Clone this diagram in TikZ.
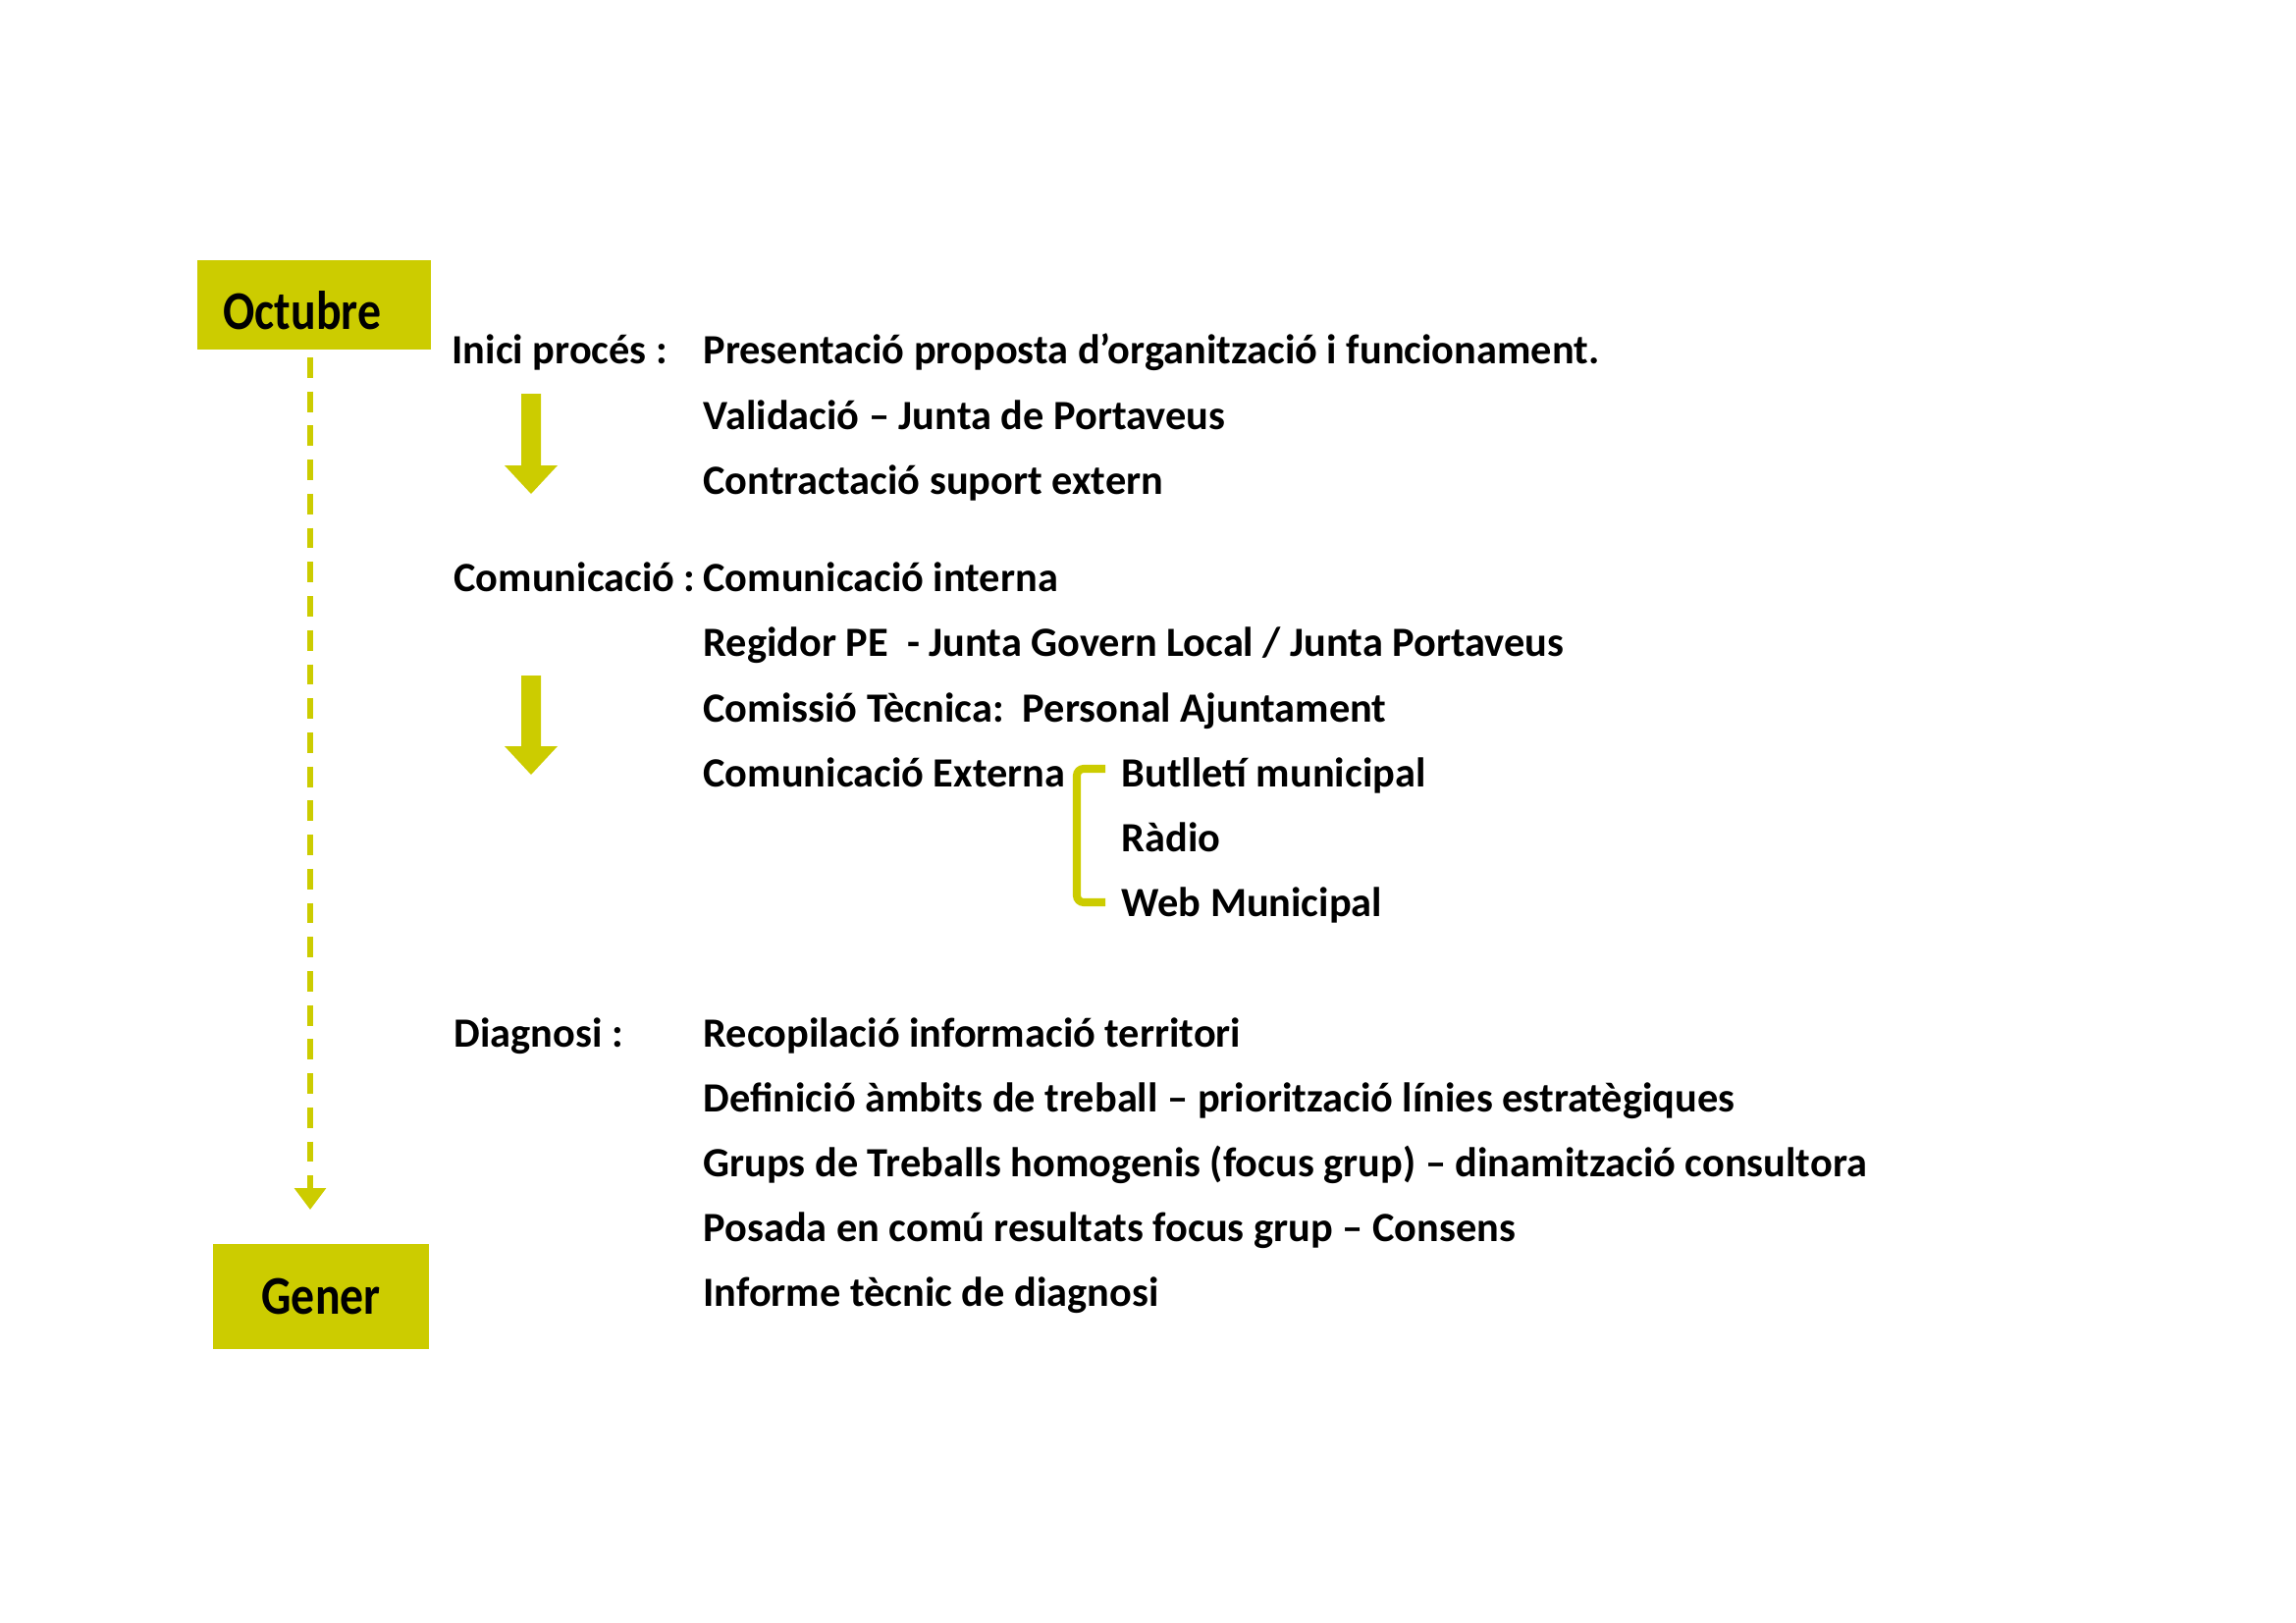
\documentclass[tikz,border=0pt]{standalone}
\usepackage{fontspec}
\setmainfont{Carlito}
\newfontfamily\boxfam{Carlito}[FakeStretch=0.86]
\usetikzlibrary{arrows.meta}
\definecolor{accent}{RGB}{204,204,0}
\newcommand{\rowfont}{\fontsize{15.25}{18}\selectfont\bfseries}
\newcommand{\boxfont}{\boxfam\fontsize{20}{24}\selectfont\bfseries}
\tikzset{
  rowtext/.style={anchor=base west, inner sep=0pt, font=\rowfont, text=black},
  monthbox/.style={fill=accent, draw=none, inner sep=0pt},
  monthtext/.style={anchor=base west, inner sep=0pt, font=\boxfont, text=black},
  timeline/.style={draw=accent, line width=2.16pt, dash pattern=on 7.5pt off 5pt,
    -{Triangle[width=11.2pt,length=7.9pt]}},
  bracketline/.style={draw=accent, line width=2.9pt, rounded corners=2.5pt},
  blockarrow/.style={fill=accent, draw=none}
}
\begin{document}
\begin{tikzpicture}[x=0.36pt,y=-0.36pt]
\useasboundingbox (0,0) rectangle (2339,1653);

% month boxes
\node[monthbox, minimum width=85.7pt, minimum height=32.8pt] (oct) at (320,310.5) {};
\node[monthtext] (octt) at (227,335) {Octubre};
\node[monthbox, minimum width=79.2pt, minimum height=38.5pt] (gen) at (327,1320.5) {};
\node[monthtext] (gent) at (266,1338) {Gener};

% timeline
\coordinate (ds) at (316,364);
\coordinate (de) at (316,1232);
\draw[timeline] (ds) -- (de);

% block arrows
\fill[blockarrow] (531,401) -- (551,401) -- (551,474) -- (568,474) -- (541,503) -- (514,474) -- (531,474) -- cycle;
\fill[blockarrow] (531,688) -- (551,688) -- (551,760) -- (568,760) -- (541,789) -- (514,760) -- (531,760) -- cycle;

% section labels
\node[rowtext] (l1) at (460,370) {Inici procés :};
\node[rowtext] (l2) at (462,602) {Comunicació :};
\node[rowtext] (l3) at (462,1066) {Diagnosi :};

% items
\node[rowtext] (a1) at (716,370) {Presentació proposta d’organització i funcionament.};
\node[rowtext] (a2) at (716,437) {Validació – Junta de Portaveus};
\node[rowtext] (a3) at (716,503) {Contractació suport extern};

\node[rowtext] (b1) at (716,602) {Comunicació interna};
\node[rowtext] (b2) at (716,668) {Regidor PE\ \ - Junta Govern Local / Junta Portaveus};
\node[rowtext] (b3) at (716,735) {Comissió Tècnica:\ \ Personal Ajuntament};
\node[rowtext] (b4) at (716,801) {Comunicació Externa};

\node[rowtext] (c1) at (1142,801) {Butlletí municipal};
\node[rowtext] (c2) at (1142,867) {Ràdio};
\node[rowtext] (c3) at (1142,933) {Web Municipal};

\coordinate (bt) at (1126,783);
\coordinate (bb) at (1126,919);
\draw[bracketline] (bt) -- (1097,783) -- (1097,919) -- (bb);

\node[rowtext] (d1) at (716,1066) {Recopilació informació territori};
\node[rowtext] (d2) at (716,1132) {Definició àmbits de treball – priorització línies estratègiques};
\node[rowtext] (d3) at (716,1198) {Grups de Treballs homogenis (focus grup) – dinamització consultora};
\node[rowtext] (d4) at (716,1264) {Posada en comú resultats focus grup – Consens};
\node[rowtext] (d5) at (716,1330) {Informe tècnic de diagnosi};
\end{tikzpicture}
\end{document}
